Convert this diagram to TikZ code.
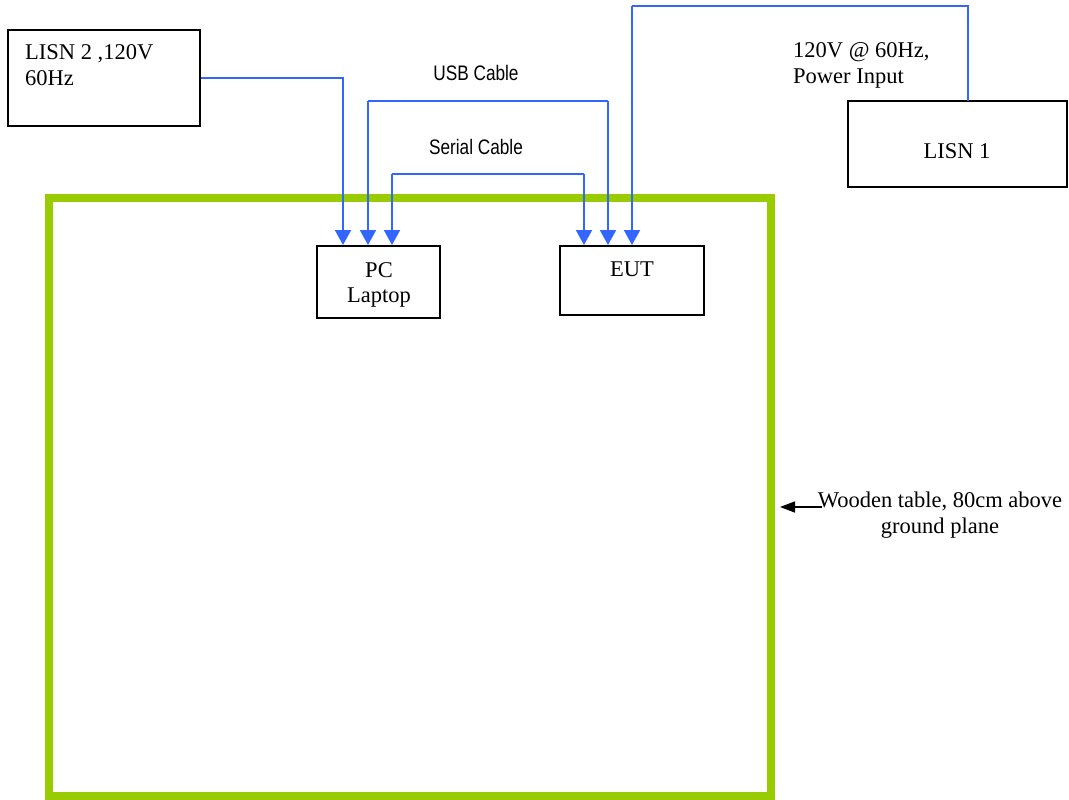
\documentclass[tikz,border=0pt]{standalone}
\usepackage{fontspec}
\setmainfont{Liberation Serif}
\newfontfamily\narrowsans[FakeStretch=0.82]{Liberation Sans}
\usetikzlibrary{arrows.meta}
\definecolor{wireblue}{HTML}{3366FF}
\definecolor{tablegreen}{HTML}{99CC00}
\tikzset{
  box/.style={draw=black, line width=2pt, inner sep=0pt},
  wire/.style={draw=wireblue, line width=2pt},
  wirearrow/.style={wire, -{Triangle[width=16pt,length=15pt]}},
  serif/.style={inner sep=0pt, font=\fontsize{22.5}{26}\selectfont},
  sanslabel/.style={inner sep=0pt, font=\narrowsans\fontsize{21}{25}\selectfont},
}
\begin{document}
\begin{tikzpicture}[x=1pt,y=-1pt]
\useasboundingbox (0,0) rectangle (1069,800);
% wooden table
\draw[tablegreen, line width=8pt] (49,198) rectangle (771,796);
% boxes
\node[box, minimum width=192pt, minimum height=96pt] (lisn2) at (104,78) {};
\node[box, minimum width=219pt, minimum height=86pt] (lisn1) at (957.5,144) {};
\node[box, minimum width=123pt, minimum height=72pt] (pc) at (378.5,282) {};
\node[box, minimum width=144pt, minimum height=69pt] (eut) at (632,280.5) {};
% texts
\node[serif, anchor=base west] (l2a) at (25,60) {LISN 2 ,120V};
\node[serif, anchor=base west] (l2b) at (25,86) {60Hz};
\node[serif, anchor=base] (l1t) at (957,158) {LISN 1};
\node[serif, anchor=base] (pct1) at (379,277) {PC};
\node[serif, anchor=base] (pct2) at (379,302) {Laptop};
\node[serif, anchor=base] (eutt) at (632,276) {EUT};
\node[serif, anchor=base west] (pw1) at (793,58) {120V @ 60Hz,};
\node[serif, anchor=base west] (pw2) at (793,84) {Power Input};
\node[sanslabel, anchor=base] (usb) at (476,81) {USB Cable};
\node[sanslabel, anchor=base] (ser) at (476,154) {Serial Cable};
\node[serif, anchor=base] (tab1) at (940,507) {Wooden table, 80cm above};
\node[serif, anchor=base] (tab2) at (940,533) {ground plane};
% connection points
\coordinate (pcA) at (343,245);
\coordinate (pcB) at (368,245);
\coordinate (pcC) at (392,245);
\coordinate (eutA) at (584,245);
\coordinate (eutB) at (608,245);
\coordinate (eutC) at (632,245);
\coordinate (usbL) at (368,101);
\coordinate (usbR) at (608,101);
\coordinate (serL) at (392,174);
\coordinate (serR) at (584,174);
\coordinate (pwL) at (632,6);
\coordinate (pwR) at (968,6);
\coordinate (l1top) at (968,101);
\coordinate (tableedge) at (780,507);
\coordinate (tabstart) at (822,507);
% wires
\draw[wirearrow] (lisn2.east) -| (pcA);
\draw[wire] (usbL) -- (usbR);
\draw[wirearrow] (usbL) -- (pcB);
\draw[wirearrow] (usbR) -- (eutB);
\draw[wire] (serL) -- (serR);
\draw[wirearrow] (serL) -- (pcC);
\draw[wirearrow] (serR) -- (eutA);
\draw[wire] (l1top) -- (pwR) -- (pwL);
\draw[wirearrow] (pwL) -- (eutC);
% table arrow
\draw[line width=1.5pt, -{Triangle[width=11pt,length=15pt]}] (tabstart) -- (tableedge);
\end{tikzpicture}
\end{document}
